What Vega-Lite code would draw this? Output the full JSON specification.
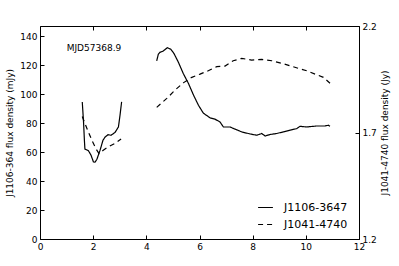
{
  "$schema": "https://vega.github.io/schema/vega-lite/v6.json",
  "width": 319,
  "height": 213,
  "autosize": {"type": "none"},
  "padding": {"left": 40, "top": 26, "right": 40, "bottom": 27},
  "config": {
    "font": "DejaVu Sans",
    "view": {"stroke": "black", "strokeWidth": 1},
    "axis": {"domain": false, "grid": false, "tickColor": "black", "tickSize": -4, "tickWidth": 1, "labelPadding": 7, "labelFontSize": 9, "labelColor": "black", "labelOverlap": false, "labelBound": false, "labelFlush": false, "titleFontSize": 9, "titleFontWeight": "normal", "titleColor": "black", "labelFont": "DejaVu Sans", "titleFont": "DejaVu Sans"},
    "legend": {"labelFont": "DejaVu Sans"}
  },
  "datasets": {
    "lines": [
      {"src": "J1106-3647", "seg": 1, "t": 1.59, "v": 94.6},
      {"src": "J1106-3647", "seg": 1, "t": 1.64, "v": 80},
      {"src": "J1106-3647", "seg": 1, "t": 1.67, "v": 68.2},
      {"src": "J1106-3647", "seg": 1, "t": 1.69, "v": 62},
      {"src": "J1106-3647", "seg": 1, "t": 1.76, "v": 61.5},
      {"src": "J1106-3647", "seg": 1, "t": 1.82, "v": 61.0},
      {"src": "J1106-3647", "seg": 1, "t": 1.92, "v": 57.8},
      {"src": "J1106-3647", "seg": 1, "t": 2.01, "v": 53.2},
      {"src": "J1106-3647", "seg": 1, "t": 2.07, "v": 53.0},
      {"src": "J1106-3647", "seg": 1, "t": 2.14, "v": 55.0},
      {"src": "J1106-3647", "seg": 1, "t": 2.26, "v": 61.3},
      {"src": "J1106-3647", "seg": 1, "t": 2.37, "v": 68.2},
      {"src": "J1106-3647", "seg": 1, "t": 2.45, "v": 70.4},
      {"src": "J1106-3647", "seg": 1, "t": 2.56, "v": 72.0},
      {"src": "J1106-3647", "seg": 1, "t": 2.67, "v": 71.6},
      {"src": "J1106-3647", "seg": 1, "t": 2.82, "v": 73.5},
      {"src": "J1106-3647", "seg": 1, "t": 2.95, "v": 77.3},
      {"src": "J1106-3647", "seg": 1, "t": 3.01, "v": 85.4},
      {"src": "J1106-3647", "seg": 1, "t": 3.07, "v": 94.6},
      {"src": "J1106-3647", "seg": 2, "t": 4.39, "v": 122.9},
      {"src": "J1106-3647", "seg": 2, "t": 4.45, "v": 127.5},
      {"src": "J1106-3647", "seg": 2, "t": 4.51, "v": 128.8},
      {"src": "J1106-3647", "seg": 2, "t": 4.64, "v": 129.8},
      {"src": "J1106-3647", "seg": 2, "t": 4.79, "v": 132.0},
      {"src": "J1106-3647", "seg": 2, "t": 4.92, "v": 131.0},
      {"src": "J1106-3647", "seg": 2, "t": 5.04, "v": 128.0},
      {"src": "J1106-3647", "seg": 2, "t": 5.2, "v": 122.2},
      {"src": "J1106-3647", "seg": 2, "t": 5.39, "v": 114.2},
      {"src": "J1106-3647", "seg": 2, "t": 5.58, "v": 107.5},
      {"src": "J1106-3647", "seg": 2, "t": 5.77, "v": 99.5},
      {"src": "J1106-3647", "seg": 2, "t": 5.96, "v": 92.3},
      {"src": "J1106-3647", "seg": 2, "t": 6.14, "v": 87.0},
      {"src": "J1106-3647", "seg": 2, "t": 6.21, "v": 86.0},
      {"src": "J1106-3647", "seg": 2, "t": 6.4, "v": 83.6},
      {"src": "J1106-3647", "seg": 2, "t": 6.58, "v": 82.7},
      {"src": "J1106-3647", "seg": 2, "t": 6.77, "v": 80.8},
      {"src": "J1106-3647", "seg": 2, "t": 6.9, "v": 77.3},
      {"src": "J1106-3647", "seg": 2, "t": 7.15, "v": 77.3},
      {"src": "J1106-3647", "seg": 2, "t": 7.34, "v": 75.8},
      {"src": "J1106-3647", "seg": 2, "t": 7.59, "v": 73.9},
      {"src": "J1106-3647", "seg": 2, "t": 7.9, "v": 72.5},
      {"src": "J1106-3647", "seg": 2, "t": 8.15, "v": 71.6},
      {"src": "J1106-3647", "seg": 2, "t": 8.34, "v": 72.8},
      {"src": "J1106-3647", "seg": 2, "t": 8.47, "v": 71.1},
      {"src": "J1106-3647", "seg": 2, "t": 8.65, "v": 72.1},
      {"src": "J1106-3647", "seg": 2, "t": 8.9, "v": 72.8},
      {"src": "J1106-3647", "seg": 2, "t": 9.15, "v": 73.9},
      {"src": "J1106-3647", "seg": 2, "t": 9.41, "v": 75.1},
      {"src": "J1106-3647", "seg": 2, "t": 9.66, "v": 76.2},
      {"src": "J1106-3647", "seg": 2, "t": 9.78, "v": 77.8},
      {"src": "J1106-3647", "seg": 2, "t": 10.03, "v": 77.3},
      {"src": "J1106-3647", "seg": 2, "t": 10.41, "v": 78.0},
      {"src": "J1106-3647", "seg": 2, "t": 10.72, "v": 78.0},
      {"src": "J1106-3647", "seg": 2, "t": 10.85, "v": 78.5},
      {"src": "J1106-3647", "seg": 2, "t": 10.91, "v": 77.8},
      {"src": "J1041-4740", "seg": 1, "t": 1.59, "v": 1.775},
      {"src": "J1041-4740", "seg": 1, "t": 1.79, "v": 1.711},
      {"src": "J1041-4740", "seg": 1, "t": 1.95, "v": 1.664},
      {"src": "J1041-4740", "seg": 1, "t": 2.10, "v": 1.625},
      {"src": "J1041-4740", "seg": 1, "t": 2.22, "v": 1.601},
      {"src": "J1041-4740", "seg": 1, "t": 2.38, "v": 1.617},
      {"src": "J1041-4740", "seg": 1, "t": 2.57, "v": 1.633},
      {"src": "J1041-4740", "seg": 1, "t": 2.82, "v": 1.649},
      {"src": "J1041-4740", "seg": 1, "t": 3.05, "v": 1.669},
      {"src": "J1041-4740", "seg": 2, "t": 4.39, "v": 1.818},
      {"src": "J1041-4740", "seg": 2, "t": 4.77, "v": 1.860},
      {"src": "J1041-4740", "seg": 2, "t": 5.08, "v": 1.899},
      {"src": "J1041-4740", "seg": 2, "t": 5.39, "v": 1.933},
      {"src": "J1041-4740", "seg": 2, "t": 5.71, "v": 1.959},
      {"src": "J1041-4740", "seg": 2, "t": 6.02, "v": 1.974},
      {"src": "J1041-4740", "seg": 2, "t": 6.33, "v": 1.990},
      {"src": "J1041-4740", "seg": 2, "t": 6.65, "v": 2.009},
      {"src": "J1041-4740", "seg": 2, "t": 6.96, "v": 2.012},
      {"src": "J1041-4740", "seg": 2, "t": 7.27, "v": 2.037},
      {"src": "J1041-4740", "seg": 2, "t": 7.59, "v": 2.048},
      {"src": "J1041-4740", "seg": 2, "t": 7.96, "v": 2.040},
      {"src": "J1041-4740", "seg": 2, "t": 8.34, "v": 2.043},
      {"src": "J1041-4740", "seg": 2, "t": 8.72, "v": 2.037},
      {"src": "J1041-4740", "seg": 2, "t": 9.09, "v": 2.025},
      {"src": "J1041-4740", "seg": 2, "t": 9.41, "v": 2.013},
      {"src": "J1041-4740", "seg": 2, "t": 9.72, "v": 2.001},
      {"src": "J1041-4740", "seg": 2, "t": 10.03, "v": 1.990},
      {"src": "J1041-4740", "seg": 2, "t": 10.35, "v": 1.974},
      {"src": "J1041-4740", "seg": 2, "t": 10.66, "v": 1.959},
      {"src": "J1041-4740", "seg": 2, "t": 10.91, "v": 1.931}
    ],
    "notes": [{"t": 2.03, "v": 131.7, "label": "MJD57368.9"}]
  },
  "layer": [
    {
      "layer": [
        {
          "data": {"name": "lines"},
          "transform": [{"filter": "datum.src === 'J1106-3647'"}],
          "mark": {"type": "line", "color": "black", "strokeWidth": 1.2},
          "encoding": {
            "x": {"field": "t", "type": "quantitative", "scale": {"domain": [0, 12], "nice": false}, "axis": {"values": [0, 2, 4, 6, 8, 10, 12], "title": null, "orient": "bottom"}},
            "y": {"field": "v", "type": "quantitative", "scale": {"domain": [0, 147], "nice": false}, "axis": {"values": [0, 20, 40, 60, 80, 100, 120, 140], "title": "J1106-364 flux density (mJy)", "titlePadding": 5}},
            "detail": {"field": "seg"},
            "strokeDash": {"field": "src", "type": "nominal", "scale": {"domain": ["J1106-3647", "J1041-4740"], "range": [[1, 0], [5, 4]]},
              "legend": {"title": null, "orient": "none", "legendX": 217, "legendY": 173, "symbolType": "stroke", "symbolSize": 220, "symbolStrokeWidth": 1.2, "symbolStrokeColor": "black", "labelFontSize": 11, "labelColor": "black", "labelOffset": 10, "rowPadding": 3, "padding": 0}}
          }
        },
        {
          "data": {"name": "notes"},
          "mark": {"type": "text", "fontSize": 9, "color": "black", "font": "DejaVu Sans"},
          "encoding": {
            "x": {"field": "t", "type": "quantitative", "scale": {"domain": [0, 12], "nice": false}, "axis": {"values": [0, 2, 4, 6, 8, 10, 12], "title": null, "orient": "bottom"}},
            "y": {"field": "v", "type": "quantitative", "scale": {"domain": [0, 147], "nice": false}, "axis": {"values": [0, 20, 40, 60, 80, 100, 120, 140], "title": "J1106-364 flux density (mJy)", "titlePadding": 5}},
            "text": {"field": "label"}
          }
        }
      ]
    },
    {
      "data": {"name": "lines"},
      "transform": [{"filter": "datum.src === 'J1041-4740'"}],
      "mark": {"type": "line", "color": "black", "strokeWidth": 1.2},
      "encoding": {
        "x": {"field": "t", "type": "quantitative", "axis": {"values": [0, 2, 4, 6, 8, 10, 12], "title": null, "orient": "top", "labels": false}},
        "y": {"field": "v", "type": "quantitative", "scale": {"domain": [1.2, 2.2], "nice": false}, "axis": {"orient": "right", "values": [1.2, 1.7, 2.2], "format": ".1f", "title": "J1041-4740 flux density (Jy)", "titleAngle": 270, "titlePadding": 13}},
        "detail": {"field": "seg"},
        "strokeDash": {"field": "src", "type": "nominal"}
      }
    }
  ],
  "resolve": {"scale": {"y": "independent"}, "axis": {"x": "independent"}}
}
